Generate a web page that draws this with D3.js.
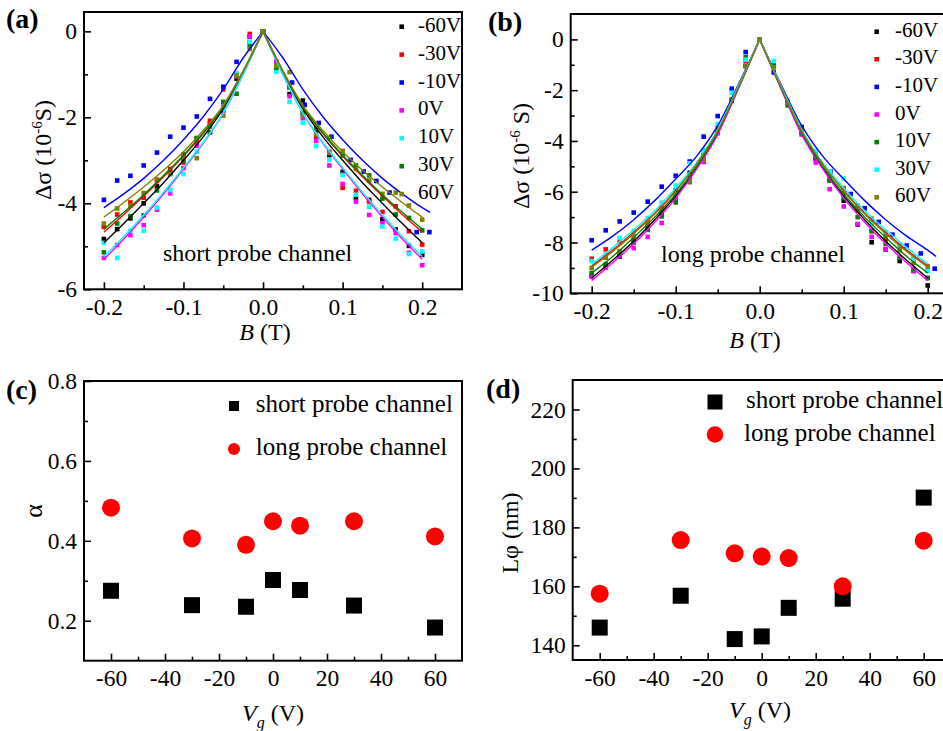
<!DOCTYPE html>
<html lang="en">
<head>
<meta charset="utf-8">
<title>Magnetoconductance fits</title>
<script src="https://d3js.org/d3.v7.min.js"></script>
<style>
  body { margin: 0; background: #fff; }
  svg { font-family: "Liberation Serif", "Times New Roman", serif; }
  .axis path { display: none; }
  .axis line { stroke: #000; stroke-width: 1.6; }
  .axis text { font-size: 23.5px; fill: #000; font-family: "Liberation Serif", "Times New Roman", serif; }
</style>
</head>
<body>
<script>
// ---------- data ----------
var gateLabels = ["-60V", "-30V", "-10V", "0V", "10V", "30V", "60V"];

// field values of the measured points (T)
var gridB = [-0.2, -0.1833, -0.1667, -0.15, -0.1333, -0.1167, -0.1, -0.0833, -0.0667, -0.05, -0.0333, -0.0167, 0,
             0.0167, 0.0333, 0.05, 0.0667, 0.0833, 0.1, 0.1167, 0.1333, 0.15, 0.1667, 0.1833, 0.2];
var shortBlueB = [-0.2, -0.1833, -0.1667, -0.15, -0.1333, -0.1167, -0.1, -0.0833, -0.0667, -0.05, -0.0333, -0.0167, 0,
                  0.0365, 0.0524, 0.070, 0.086, 0.110, 0.1265, 0.1424, 0.159, 0.193, 0.209];
var longBlueB = [-0.2, -0.1833, -0.1667, -0.15, -0.1333, -0.1167, -0.1, -0.0833, -0.0667, -0.05, -0.0333, -0.0167, 0,
                 0.0167, 0.0333, 0.05, 0.0667, 0.0841, 0.1083, 0.125, 0.1417, 0.158, 0.175, 0.1917, 0.2083];

// (a) short probe channel, delta sigma (1e-6 S)
var shortM60 = [-4.83, -4.6, -4.35, -4.0, -3.6, -3.3, -2.87, -2.5, -2.15, -1.84, -1.1, -0.12, 0,
                -0.75, -1.46, -1.61, -2.3, -2.88, -3.27, -3.88, -3.92, -4.37, -4.61, -4.99, -5.2];
var shortM30 = [-4.55, -4.26, -3.98, -3.87, -3.45, -3.2, -3.05, -2.58, -2.08, -1.35, -0.99, -0.06, 0,
                -0.8, -1.3, -1.9, -2.45, -2.8, -3.64, -3.71, -3.96, -4.2, -4.07, -4.65, -4.96];
var shortM10 = [-3.92, -3.47, -3.36, -3.12, -2.82, -2.45, -2.24, -1.98, -1.57, -1.29, -0.71, -0.25, 0,
                -1.19, -1.71, -2.13, -2.45, -2.99, -3.26, -3.48, -3.75, -4.67, -4.67];
var short0 = [-5.27, -4.97, -4.74, -4.51, -4.15, -3.77, -3.18, -2.66, -2.35, -1.75, -1.05, -0.12, 0,
              -0.7, -1.51, -2.02, -2.55, -3.12, -3.55, -3.96, -4.27, -4.46, -4.69, -5.15, -5.44];
var short10 = [-4.92, -5.27, -4.64, -4.64, -4.1, -3.69, -3.32, -2.8, -2.35, -1.8, -1.0, -0.25, 0,
               -0.94, -1.64, -2.13, -2.67, -2.99, -3.34, -3.8, -4.08, -4.54, -4.82, -5.18, -5.12];
var short30 = [-5.14, -4.47, -4.3, -4.28, -3.7, -3.3, -3.0, -2.48, -2.35, -1.64, -1.45, -0.35, 0,
               -0.85, -1.3, -1.9, -2.25, -2.48, -2.89, -3.12, -3.35, -3.89, -4.26, -4.34, -4.63];
var short60 = [-4.47, -4.12, -4.05, -3.76, -3.47, -3.32, -2.9, -2.95, -2.22, -1.96, -1.03, -0.41, 0,
               -0.8, -0.95, -1.96, -2.39, -2.83, -2.78, -3.2, -3.47, -3.78, -3.75, -4.05, -4.38];

// (b) long probe channel, delta sigma (1e-6 S)
var longM60 = [-9.3, -8.9, -8.55, -7.95, -7.45, -6.85, -5.95, -5.25, -4.6, -3.6, -2.4, -1.05, 0,
               -1.05, -2.45, -3.65, -4.7, -5.55, -6.35, -7.29, -7.99, -8.27, -8.73, -9.12, -9.69];
var longM30 = [-8.64, -8.27, -7.95, -7.8, -7.25, -6.65, -6.2, -5.4, -4.65, -3.5, -2.4, -0.85, 0,
               -0.98, -2.5, -3.55, -4.55, -5.5, -6.05, -6.75, -7.55, -7.88, -8.16, -8.6, -9.1];
var longM10 = [-7.91, -7.52, -7.17, -6.82, -6.39, -5.8, -5.37, -4.81, -3.83, -3.02, -1.94, -0.5, 0,
               -1.3, -2.45, -3.45, -4.45, -5.2, -6.09, -6.65, -7.19, -7.69, -8.12, -8.43, -9.03];
var long0 = [-9.35, -8.99, -8.51, -8.22, -7.78, -7.23, -6.3, -5.6, -4.83, -3.7, -2.4, -1.05, 0,
             -1.05, -2.5, -3.75, -4.85, -5.9, -6.58, -7.27, -7.78, -8.25, -8.6, -9.12, -9.39];
var long10 = [-9.2, -8.85, -8.45, -8.0, -7.5, -6.97, -6.42, -5.62, -4.55, -3.65, -2.4, -0.7, 0,
              -1.05, -2.6, -3.7, -4.65, -5.55, -6.25, -7.0, -7.55, -8.05, -8.6, -9.05, -9.4];
var long30 = [-8.73, -8.47, -7.82, -7.55, -7.04, -6.43, -5.76, -4.88, -4.36, -3.33, -2.1, -0.8, 0,
              -0.85, -2.39, -3.6, -4.39, -5.2, -5.48, -6.55, -7.23, -7.6, -8.1, -8.6, -9.12];
var long60 = [-9.0, -8.6, -8.34, -7.75, -7.2, -6.75, -6.1, -5.59, -4.74, -3.67, -2.35, -1.05, 0,
              -1.1, -2.5, -3.6, -4.55, -5.4, -5.85, -6.55, -7.06, -7.75, -8.31, -8.8, -8.93];

// fitted curves, read at |B| (mirrored on both sides of B = 0)
var fitB = [0, 0.025, 0.05, 0.075, 0.1, 0.125, 0.15, 0.175, 0.2, 0.21];
var fitShortM60 = [0, -0.95, -1.8, -2.45, -3.0, -3.52, -4.0, -4.47, -4.92, null];
var fitShortM30 = [0, -0.93, -1.75, -2.37, -2.9, -3.38, -3.83, -4.26, -4.67, null];
var fitShortM10 = [0, -0.62, -1.35, -1.98, -2.52, -3.0, -3.42, -3.78, -4.1, -4.21];
var fitShort0   = [0, -1.0, -1.9, -2.6, -3.2, -3.78, -4.32, -4.83, -5.3, null];
var fitShort10  = [0, -1.0, -1.9, -2.58, -3.17, -3.74, -4.27, -4.77, -5.24, null];
var fitShort30  = [0, -0.93, -1.75, -2.36, -2.88, -3.35, -3.8, -4.21, -4.6, null];
var fitShort60  = [0, -0.92, -1.72, -2.3, -2.8, -3.23, -3.62, -3.98, -4.32, null];
var fitLongM60 = [0, -1.9, -3.7, -5.05, -6.17, -7.1, -7.95, -8.7, -9.4, null];
var fitLongM30 = [0, -1.85, -3.6, -4.9, -5.95, -6.85, -7.6, -8.3, -8.92, null];
var fitLongM10 = [0, -1.75, -3.4, -4.6, -5.5, -6.35, -7.1, -7.75, -8.3, -8.55];
var fitLong0   = [0, -1.9, -3.75, -5.1, -6.25, -7.2, -8.05, -8.8, -9.5, null];
var fitLong10  = [0, -1.85, -3.65, -5.0, -6.1, -7.0, -7.8, -8.55, -9.2, null];
var fitLong30  = [0, -1.8, -3.55, -4.85, -5.85, -6.75, -7.5, -8.2, -8.85, null];
var fitLong60  = [0, -1.85, -3.6, -4.9, -5.98, -6.88, -7.65, -8.35, -8.97, null];

// (c), (d) fit parameters vs gate voltage
var vg = [-60, -30, -10, 0, 10, 30, 60];
var alphaShort = [0.275, 0.239, 0.235, 0.302, 0.277, 0.238, 0.183];
var alphaLong = [0.483, 0.406, 0.390, 0.449, 0.438, 0.449, 0.411];
var lphiShort = [146.0, 156.8, 142.1, 143.0, 152.7, 155.8, 190.1];
var lphiLong = [157.5, 175.7, 171.2, 170.1, 169.6, 160.0, 175.5];

// tick values
var bTicks = [-0.2, -0.1, 0, 0.1, 0.2], bMinor = [-0.15, -0.05, 0.05, 0.15];
var shortTicks = [0, -2, -4, -6], shortMinor = [-1, -3, -5];
var longTicks = [0, -2, -4, -6, -8, -10], longMinor = [-1, -3, -5, -7, -9];
var vgTicks = [-60, -40, -20, 0, 20, 40, 60], vgMinor = [-50, -30, -10, 10, 30, 50];
var alphaTicks = [0.2, 0.4, 0.6, 0.8], alphaMinor = [0.3, 0.5, 0.7];
var lphiTicks = [140, 160, 180, 200, 220], lphiMinor = [150, 170, 190, 210];

// ---------- drawing ----------
var svg = d3.select("body").append("svg")
    .attr("width", 943)
    .attr("height", 731);

function frame(x, y, xt, xm, yt, ym, xfmt, yfmt) {
    var bottom = y.range()[0], top = y.range()[1];
    var left = x.range()[0], right = x.range()[1];
    svg.append("g").attr("class", "axis")
        .attr("transform", "translate(0," + bottom + ")")
        .call(d3.axisBottom(x).tickValues(xm).tickSize(-4).tickFormat(""));
    svg.append("g").attr("class", "axis")
        .attr("transform", "translate(0," + bottom + ")")
        .call(d3.axisBottom(x).tickValues(xt).tickSize(-7).tickPadding(9).tickFormat(xfmt));
    svg.append("g").attr("class", "axis")
        .attr("transform", "translate(" + left + ",0)")
        .call(d3.axisLeft(y).tickValues(ym).tickSize(-4).tickFormat(""));
    svg.append("g").attr("class", "axis")
        .attr("transform", "translate(" + left + ",0)")
        .call(d3.axisLeft(y).tickValues(yt).tickSize(-7).tickPadding(7).tickFormat(yfmt));
    svg.append("rect")
        .attr("x", left).attr("y", top)
        .attr("width", right - left).attr("height", bottom - top)
        .attr("fill", "none").attr("stroke", "#000").attr("stroke-width", 2);
}

function fmt1(d) { return d.toFixed(1); }
function fmt0(d) { return String(d); }

function walPanel(x, y, series, leg) {
    var line = d3.line()
        .x(function (d) { return x(d[0]); })
        .y(function (d) { return y(d[1]); })
        .curve(d3.curveMonotoneX);

    series.forEach(function (s) {
        var pts = s.b.map(function (b, i) { return [b, s.v[i]]; });
        svg.append("g").selectAll("rect")
            .data(pts).enter().append("rect")
            .attr("x", function (d) { return x(d[0]) - 2.3; })
            .attr("y", function (d) { return y(d[1]) - 2.3; })
            .attr("width", 4.6).attr("height", 4.6)
            .attr("fill", s.color);
    });
    series.forEach(function (s) {
        var right = [], leftSide = [];
        fitB.forEach(function (b, i) {
            if (s.fit[i] === null) return;
            right.push([b, s.fit[i]]);
            if (b <= 0.2) leftSide.unshift([-b, s.fit[i]]);
        });
        [leftSide, right].forEach(function (half) {
            svg.append("path")
                .attr("d", line(half))
                .attr("fill", "none")
                .attr("stroke", s.color)
                .attr("stroke-width", 1.4);
        });
    });

    // legend
    series.forEach(function (s, i) {
        var yy = leg.y + i * leg.step;
        svg.append("rect")
            .attr("x", leg.x - 2.3).attr("y", yy - 2.3)
            .attr("width", 4.6).attr("height", 4.6)
            .attr("fill", s.color);
        svg.append("text")
            .attr("x", leg.tx).attr("y", yy + 5)
            .style("font-size", "21px")
            .text(gateLabels[i]);
    });
}

// ----- panel (a)
var xa = d3.scaleLinear().domain([-0.225, 0.25]).range([84, 462]);
var ya = d3.scaleLinear().domain([-6, 0.45]).range([289.3, 12]);
frame(xa, ya, bTicks, bMinor, shortTicks, shortMinor, fmt1, fmt0);
walPanel(xa, ya, [
    { color: "#000000", b: gridB, v: shortM60, fit: fitShortM60 },
    { color: "#ff0000", b: gridB, v: shortM30, fit: fitShortM30 },
    { color: "#0000ff", b: shortBlueB, v: shortM10, fit: fitShortM10 },
    { color: "#ff00ff", b: gridB, v: short0, fit: fitShort0 },
    { color: "#00ffff", b: gridB, v: short10, fit: fitShort10 },
    { color: "#008000", b: gridB, v: short30, fit: fitShort30 },
    { color: "#808000", b: gridB, v: short60, fit: fitShort60 }
], { x: 401.7, y: 26.7, step: 27.9, tx: 418 });

// ----- panel (b)
var xb = d3.scaleLinear().domain([-0.225, 0.25]).range([570.7, 969.7]);
var yb = d3.scaleLinear().domain([-10, 1]).range([293.3, 14]);
frame(xb, yb, bTicks, bMinor, longTicks, longMinor, fmt1, fmt0);
walPanel(xb, yb, [
    { color: "#000000", b: gridB, v: longM60, fit: fitLongM60 },
    { color: "#ff0000", b: gridB, v: longM30, fit: fitLongM30 },
    { color: "#0000ff", b: longBlueB, v: longM10, fit: fitLongM10 },
    { color: "#ff00ff", b: gridB, v: long0, fit: fitLong0 },
    { color: "#008000", b: gridB, v: long10, fit: fitLong10 },
    { color: "#00ffff", b: gridB, v: long30, fit: fitLong30 },
    { color: "#808000", b: gridB, v: long60, fit: fitLong60 }
], { x: 876.7, y: 31.7, step: 27.6, tx: 895 });

// ----- panels (c) and (d)
function paramPanel(x, y, sq, circ, leg) {
    svg.append("g").selectAll("rect")
        .data(vg).enter().append("rect")
        .attr("x", function (d) { return x(d) - 8; })
        .attr("y", function (d, i) { return y(sq[i]) - 8; })
        .attr("width", 16).attr("height", 16)
        .attr("fill", "#000");
    svg.append("g").selectAll("circle")
        .data(vg).enter().append("circle")
        .attr("cx", function (d) { return x(d); })
        .attr("cy", function (d, i) { return y(circ[i]); })
        .attr("r", 9)
        .attr("fill", "#ff0000");

    svg.append("rect")
        .attr("x", leg.mx - leg.sq / 2).attr("y", leg.y1 - leg.sq / 2)
        .attr("width", leg.sq).attr("height", leg.sq).attr("fill", "#000");
    svg.append("text").attr("x", leg.tx).attr("y", leg.y1 + 6)
        .style("font-size", "25px").text("short probe channel");
    svg.append("circle")
        .attr("cx", leg.mx).attr("cy", leg.y2).attr("r", leg.r).attr("fill", "#ff0000");
    svg.append("text").attr("x", leg.tx2).attr("y", leg.y2 + 6)
        .style("font-size", "25px").text("long probe channel");
}

var xc = d3.scaleLinear().domain([-70, 70]).range([84, 462]);
var yc = d3.scaleLinear().domain([0.1, 0.8]).range([660.7, 381]);
frame(xc, yc, vgTicks, vgMinor, alphaTicks, alphaMinor, fmt0, fmt1);
paramPanel(xc, yc, alphaShort, alphaLong,
    { mx: 234, y1: 406, y2: 449, sq: 10, r: 6, tx: 255.7, tx2: 255.7 });

var xd = d3.scaleLinear().domain([-70, 70]).range([572.7, 950.7]);
var yd = d3.scaleLinear().domain([135, 230]).range([660, 380]);
frame(xd, yd, vgTicks, vgMinor, lphiTicks, lphiMinor, fmt0, fmt0);
paramPanel(xd, yd, lphiShort, lphiLong,
    { mx: 715, y1: 402, y2: 434.5, sq: 15, r: 8.3, tx: 746, tx2: 744 });

// ---------- texts ----------
function label(x, y, txt) {
    svg.append("text").attr("x", x).attr("y", y)
        .style("font-size", "28px").style("font-weight", "bold").text(txt);
}
label(6, 28, "(a)");
label(488, 31, "(b)");
label(6, 399, "(c)");
label(486, 398, "(d)");

svg.append("text").attr("x", 163).attr("y", 261).style("font-size", "24px").text("short probe channel");
svg.append("text").attr("x", 661).attr("y", 262).style("font-size", "24px").text("long probe channel");

function bTitle(cx, by) {
    var t = svg.append("text").attr("x", cx).attr("y", by)
        .attr("text-anchor", "middle").style("font-size", "24px");
    t.append("tspan").style("font-style", "italic").text("B");
    t.append("tspan").text(" (T)");
}
bTitle(265, 340);
bTitle(755, 348);

function vgTitle(cx, by) {
    var t = svg.append("text").attr("x", cx).attr("y", by)
        .attr("text-anchor", "middle").style("font-size", "24px");
    t.append("tspan").style("font-style", "italic").text("V");
    t.append("tspan").style("font-style", "italic").style("font-size", "16px").attr("dy", 7).text("g");
    t.append("tspan").attr("dy", -7).text(" (V)");
}
vgTitle(273, 721);
vgTitle(760, 718);

function sigmaTitle(cx, cy, unit) {
    var t = svg.append("text")
        .attr("transform", "translate(" + cx + "," + cy + ") rotate(-90)")
        .attr("text-anchor", "middle").style("font-size", "24px");
    t.append("tspan").text("\u0394\u03c3 (10");
    t.append("tspan").attr("dy", -9).style("font-size", "15px").text("-6");
    t.append("tspan").attr("dy", 9).text(unit);
}
sigmaTitle(51, 150, "S)");
sigmaTitle(529, 156, " S)");

svg.append("text")
    .attr("transform", "translate(42,511) rotate(-90)")
    .attr("text-anchor", "middle").style("font-size", "26px")
    .text("\u03b1");
svg.append("text")
    .attr("transform", "translate(518,533) rotate(-90)")
    .attr("text-anchor", "middle").style("font-size", "24px")
    .text("L\u03c6 (nm)");
</script>
</body>
</html>
